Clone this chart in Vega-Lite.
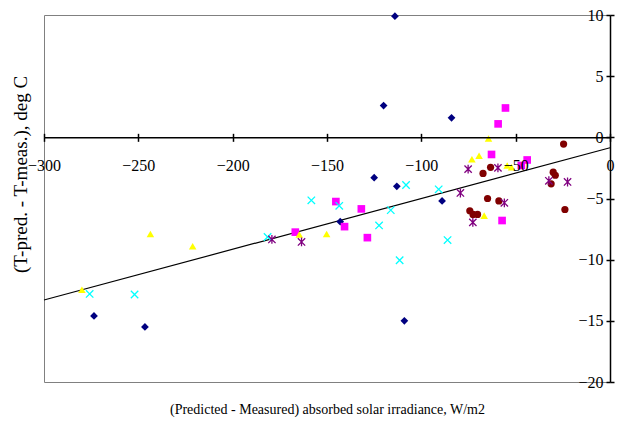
{
  "$schema": "https://vega.github.io/schema/vega-lite/v6.json",
  "width": 566,
  "height": 367,
  "autosize": {"type": "none"},
  "padding": {"left": 44, "top": 15, "right": 14, "bottom": 44},
  "background": "white",
  "config": {
    "view": {"stroke": "#808080", "strokeWidth": 1},
    "axis": {
      "grid": false,
      "labelFont": "Liberation Serif",
      "labelFontSize": 16,
      "labelColor": "black",
      "labelFlush": false,
      "labelOverlap": false,
      "tickColor": "black",
      "domainColor": "black",
      "titleFont": "Liberation Serif",
      "titleFontSize": 14,
      "titleFontWeight": "normal",
      "titleColor": "black"
    }
  },
  "datasets": {
    "trend": [
      {"x": -300, "y": -13.3},
      {"x": 0, "y": -0.85}
    ],
    "pts": [
      {"series": "A", "x": -114, "y": 9.9},
      {"series": "A", "x": -120, "y": 2.6},
      {"series": "A", "x": -84, "y": 1.6},
      {"series": "A", "x": -125, "y": -3.3},
      {"series": "A", "x": -113, "y": -4.0},
      {"series": "A", "x": -143, "y": -6.9},
      {"series": "A", "x": -89, "y": -5.2},
      {"series": "A", "x": -273.5, "y": -14.6},
      {"series": "A", "x": -246.5, "y": -15.5},
      {"series": "A", "x": -109, "y": -15.0},
      {"series": "B", "x": -55.4, "y": 2.4},
      {"series": "B", "x": -59.3, "y": 1.1},
      {"series": "B", "x": -62.8, "y": -1.4},
      {"series": "B", "x": -43.9, "y": -1.85},
      {"series": "B", "x": -47, "y": -2.3},
      {"series": "B", "x": -57.2, "y": -6.8},
      {"series": "B", "x": -145.3, "y": -5.25},
      {"series": "B", "x": -131.8, "y": -5.85},
      {"series": "B", "x": -140.7, "y": -7.3},
      {"series": "B", "x": -166.8, "y": -7.75},
      {"series": "B", "x": -128.6, "y": -8.2},
      {"series": "C", "x": -64.4, "y": -0.1},
      {"series": "C", "x": -73.2, "y": -1.8},
      {"series": "C", "x": -69.4, "y": -1.5},
      {"series": "C", "x": -54.5, "y": -2.3},
      {"series": "C", "x": -52.2, "y": -2.45},
      {"series": "C", "x": -66.7, "y": -6.4},
      {"series": "C", "x": -243.6, "y": -7.9},
      {"series": "C", "x": -221.2, "y": -8.9},
      {"series": "C", "x": -150.2, "y": -7.9},
      {"series": "C", "x": -164.7, "y": -7.95},
      {"series": "C", "x": -279.9, "y": -12.45},
      {"series": "D", "x": -158.3, "y": -5.15},
      {"series": "D", "x": -143.5, "y": -5.6},
      {"series": "D", "x": -108.1, "y": -3.9},
      {"series": "D", "x": -116.2, "y": -5.95},
      {"series": "D", "x": -122.4, "y": -7.2},
      {"series": "D", "x": -181.5, "y": -8.15},
      {"series": "D", "x": -111.5, "y": -10.05},
      {"series": "D", "x": -90.8, "y": -4.25},
      {"series": "D", "x": -86.1, "y": -8.4},
      {"series": "D", "x": -275.8, "y": -12.8},
      {"series": "D", "x": -252, "y": -12.85},
      {"series": "E", "x": -179.2, "y": -8.35},
      {"series": "E", "x": -163.5, "y": -8.55},
      {"series": "E", "x": -75.2, "y": -2.6},
      {"series": "E", "x": -59.4, "y": -2.5},
      {"series": "E", "x": -79.3, "y": -4.55},
      {"series": "E", "x": -56, "y": -5.35},
      {"series": "E", "x": -72.7, "y": -6.95},
      {"series": "E", "x": -32.4, "y": -3.55},
      {"series": "E", "x": -22.5, "y": -3.65},
      {"series": "F", "x": -24.6, "y": -0.55},
      {"series": "F", "x": -63.3, "y": -2.45},
      {"series": "F", "x": -67.3, "y": -2.95},
      {"series": "F", "x": -64.9, "y": -5.0},
      {"series": "F", "x": -58.9, "y": -5.2},
      {"series": "F", "x": -74.3, "y": -6.0},
      {"series": "F", "x": -72.6, "y": -6.3},
      {"series": "F", "x": -70.2, "y": -6.3},
      {"series": "F", "x": -30.1, "y": -2.85},
      {"series": "F", "x": -29.0, "y": -3.1},
      {"series": "F", "x": -31.2, "y": -3.8},
      {"series": "F", "x": -23.9, "y": -5.9}
    ]
  },
  "resolve": {
    "scale": {"x": "shared", "y": "shared"},
    "axis": {"x": "independent", "y": "independent"}
  },
  "layer": [
    {
      "data": {"name": "trend"},
      "mark": {"type": "line", "color": "black", "strokeWidth": 1.2},
      "encoding": {
        "x": {
          "field": "x", "type": "quantitative",
          "scale": {"domain": [-300, 0], "nice": false, "zero": false},
          "axis": {
            "orient": "bottom", "offset": -244.67, "title": null,
            "values": [-300, -250, -200, -150, -100, -50, 0],
            "tickSize": 4, "labelPadding": 24, "labelBaseline": "middle",
            "domainWidth": 1.5, "tickWidth": 1.5, "zindex": 1
          }
        },
        "y": {
          "field": "y", "type": "quantitative",
          "scale": {"domain": [-20, 10], "nice": false, "zero": false},
          "axis": {
            "orient": "left", "offset": -566, "title": null,
            "values": [-20, -15, -10, -5, 0, 5, 10],
            "tickSize": 4, "labelPadding": 3,
            "domainWidth": 1.5, "tickWidth": 1.5, "zindex": 1
          }
        }
      }
    },
    {
      "data": {"name": "pts"},
      "transform": [{"filter": {"field": "series", "oneOf": ["A", "B", "C", "F"]}}],
      "mark": {"type": "point", "filled": true, "opacity": 1},
      "encoding": {
        "x": {
          "field": "x", "type": "quantitative",
          "axis": {
            "orient": "top", "offset": -122.33, "title": null,
            "values": [-300, -250, -200, -150, -100, -50, 0],
            "tickSize": 4, "labels": false, "domain": false, "tickWidth": 1.5
          }
        },
        "y": {
          "field": "y", "type": "quantitative",
          "axis": {
            "orient": "right", "offset": 0, "title": null,
            "values": [-20, -15, -10, -5, 0, 5, 10],
            "tickSize": 4, "labels": false, "domain": false, "tickWidth": 1.5
          }
        },
        "shape": {
          "field": "series", "type": "nominal", "legend": null,
          "scale": {"domain": ["A", "B", "C", "D", "E", "F"], "range": ["diamond", "square", "triangle-up", "M-1,-1L1,1M-1,1L1,-1", "M-1,-1L1,1M-1,1L1,-1M0,-1.2L0,1.2", "circle"]}
        },
        "color": {
          "field": "series", "type": "nominal", "legend": null,
          "scale": {"domain": ["A", "B", "C", "D", "E", "F"], "range": ["#000080", "#FF00FF", "#FFFF00", "#00FFFF", "#800080", "#800000"]}
        },
        "size": {
          "field": "series", "type": "nominal", "legend": null,
          "scale": {"domain": ["A", "B", "C", "D", "E", "F"], "range": [60, 52, 85, 50, 50, 72]}
        }
      }
    },
    {
      "data": {"name": "pts"},
      "transform": [{"filter": {"field": "series", "oneOf": ["D", "E"]}}],
      "mark": {"type": "point", "filled": false, "opacity": 1, "strokeWidth": 1.3},
      "encoding": {
        "x": {
          "field": "x", "type": "quantitative",
          "axis": {
            "orient": "bottom", "offset": 0, "title": "(Predicted - Measured) absorbed solar irradiance, W/m2",
            "labels": false, "ticks": false, "domain": false, "titlePadding": 20
          }
        },
        "y": {
          "field": "y", "type": "quantitative",
          "axis": {
            "orient": "left", "offset": 0, "title": "(T-pred. - T-meas.), deg C",
            "labels": false, "ticks": false, "domain": false, "titlePadding": 14,
            "titleY": 159, "titleAlign": "center", "titleFontSize": 19
          }
        },
        "shape": {
          "field": "series", "type": "nominal", "legend": null,
          "scale": {"domain": ["A", "B", "C", "D", "E", "F"], "range": ["diamond", "square", "triangle-up", "M-1,-1L1,1M-1,1L1,-1", "M-1,-1L1,1M-1,1L1,-1M0,-1.2L0,1.2", "circle"]}
        },
        "color": {
          "field": "series", "type": "nominal", "legend": null,
          "scale": {"domain": ["A", "B", "C", "D", "E", "F"], "range": ["#000080", "#FF00FF", "#FFFF00", "#00FFFF", "#800080", "#800000"]}
        },
        "size": {
          "field": "series", "type": "nominal", "legend": null,
          "scale": {"domain": ["A", "B", "C", "D", "E", "F"], "range": [60, 52, 85, 50, 50, 72]}
        }
      }
    }
  ]
}
